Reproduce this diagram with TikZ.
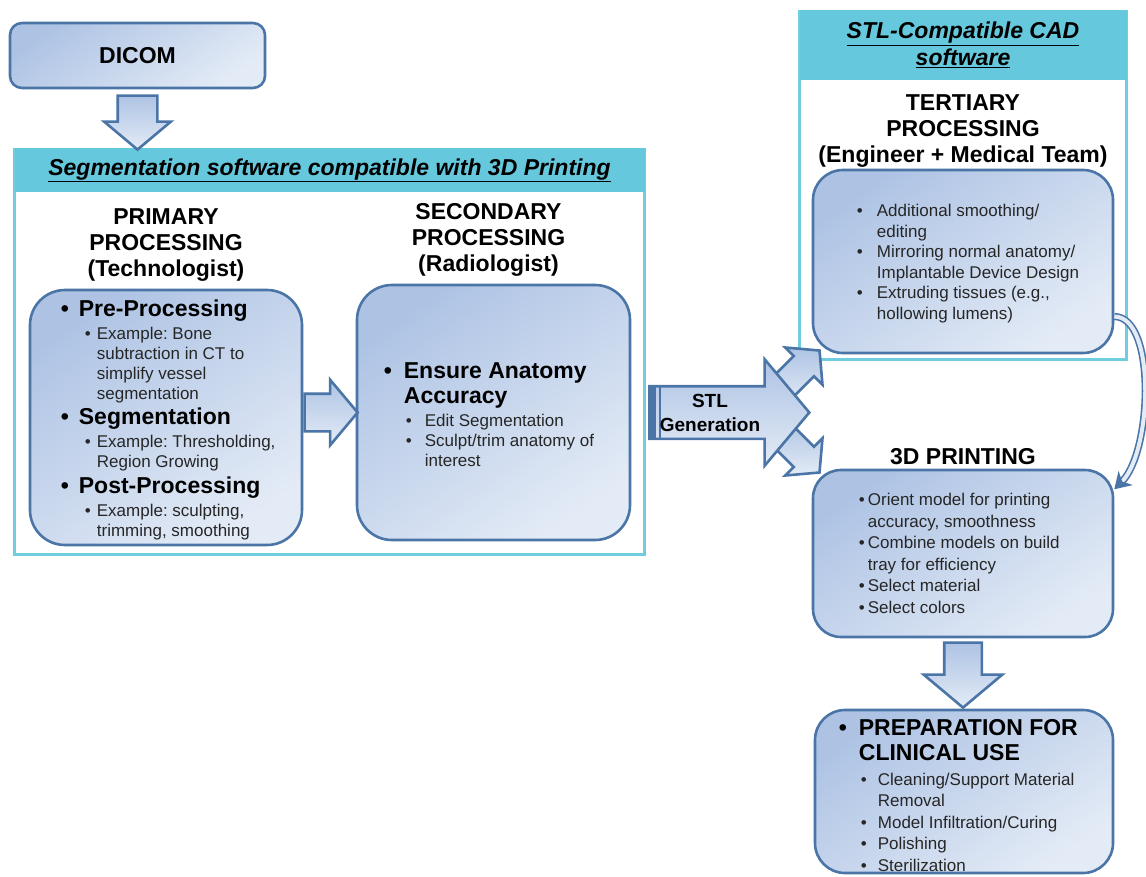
\documentclass[tikz,border=0pt]{standalone}
\usepackage{fontspec}
\setmainfont{Liberation Sans}
\usetikzlibrary{positioning,shapes.arrows,arrows.meta}

\definecolor{boxedge}{HTML}{4A75A6}
\definecolor{boxtop}{HTML}{AEC3E4}
\definecolor{boxbot}{HTML}{E3EBF6}
\definecolor{panelcyan}{HTML}{66C8DC}
\definecolor{paneledge}{HTML}{70CDE0}
\definecolor{subtext}{HTML}{262626}

\newcommand{\subskip}{20pt}
% Hauptpunkt: #1 Abstand Punkt->Text, #2 Text
\newcommand{\hitem}[2]{{\fontsize{23}{25.5}\selectfont\bfseries\frenchspacing\spaceskip=0pt\xspaceskip=0pt\leftskip=#1\noindent\llap{\hbox to #1{\textbullet\hfil}}#2\par}\vskip3pt}
% Unterpunkt: #1 Punkt-x, #2 Text-x, #3 Text
\newcommand{\sitem}[3]{{\fontsize{17}{\subskip}\selectfont\frenchspacing\spaceskip=0pt\xspaceskip=0pt\leftskip=#2\noindent\color{subtext}\llap{\hbox to \dimexpr#2-#1\relax{\textbullet\hfil}}#3\par}}

\tikzset{
  flowbox/.style={draw=boxedge, line width=2.6pt, top color=boxtop, bottom color=boxbot, shading angle=35, rounded corners=#1, inner sep=0pt},
  flowbox/.default=32pt,
  panel/.style={draw=paneledge, line width=3pt, fill=white, inner sep=0pt},
  panelhead/.style={fill=panelcyan, inner sep=0pt, font=\fontsize{23}{27}\selectfont\bfseries\itshape, align=center},
  heading/.style={font=\fontsize{23}{26}\selectfont\bfseries, align=center, inner sep=0pt},
  itemtext/.style={text width=#1, align=left, inner sep=0pt, anchor=west},
  blockarrow/.style={single arrow, draw=boxedge, line width=2.6pt, top color=boxtop, bottom color=boxbot, single arrow tip angle=100, inner xsep=0pt},
  bendarrow/.style={draw=boxedge, line width=1.6pt, double=boxbot, double distance=4pt, -{Stealth[length=16pt,width=20pt,inset=5pt]}}
}

\begin{document}
\begin{tikzpicture}[x=1pt,y=-1pt]
\useasboundingbox (0,0) rectangle (1146,876);

% Panels
\node[panel, minimum width=630pt, minimum height=405pt, anchor=north west] (segpanel) at (13,148) {};
\node[panelhead, minimum width=630pt, minimum height=44pt, anchor=north] (seghead) at (segpanel.north) {\underline{Segmentation software compatible with 3D Printing}};
\node[panel, minimum width=327pt, minimum height=348pt, anchor=north west] (cadpanel) at (798,10) {};
\node[panelhead, minimum width=327pt, minimum height=70pt, anchor=north] (cadhead) at (cadpanel.north) {\underline{STL-Compatible CAD}\\\underline{software}};

% DICOM
\node[flowbox=12pt, minimum width=255pt, minimum height=65pt, font=\fontsize{23}{26}\selectfont\bfseries] (dicom) at (137.5,55.5) {DICOM};
\node[blockarrow, rotate=-90, minimum height=54pt, inner ysep=18.5pt, single arrow head extend=13.5pt, anchor=tail] (dicomdown) at ([yshift=-5pt]dicom.south) {};

% Primary / Secondary
\node[flowbox=35pt, minimum width=272pt, minimum height=255pt] (prim) at (166,417.5) {};
\node[flowbox=35pt, minimum width=273pt, minimum height=255pt] (sec) at (493.5,412.5) {};
\node[heading, above=7pt of prim] (primhead) {PRIMARY\\PROCESSING\\(Technologist)};
\node[heading, above=7pt of sec, xshift=-5pt] (sechead) {SECONDARY\\PROCESSING\\(Radiologist)};

\node[itemtext=235pt] (primtext) at ([xshift=32pt,yshift=-2pt]prim.west) {%
  \hitem{18pt}{Pre-Processing}
  \sitem{24pt}{36pt}{Example: Bone\newline subtraction in CT to\newline simplify vessel\newline segmentation}
  \hitem{18pt}{Segmentation}
  \sitem{24pt}{36pt}{Example: Thresholding,\newline Region Growing}
  \hitem{18pt}{Post-Processing}
  \sitem{24pt}{36pt}{Example: sculpting,\newline trimming, smoothing}};

\node[itemtext=230pt] (sectext) at ([xshift=28pt,yshift=-2pt]sec.west) {%
  \hitem{20pt}{Ensure Anatomy\newline Accuracy}
  \sitem{22pt}{41pt}{Edit Segmentation}
  \sitem{22pt}{41pt}{Sculpt/trim anatomy of\newline interest}};

\node[blockarrow, minimum height=53pt, inner ysep=17.5pt, single arrow head extend=14pt, anchor=tail] (primarrow) at ([yshift=5pt]prim.east) {};

% Tertiary / 3D Printing / Preparation
\node[flowbox=30pt, minimum width=300pt, minimum height=183pt] (tert) at (963,261.5) {};
\node[flowbox=28pt, minimum width=300pt, minimum height=167pt] (print) at (963,553.5) {};
\node[flowbox=30pt, minimum width=298pt, minimum height=163pt] (prep) at (964,791.5) {};
\node[heading, above=1pt of tert] (terthead) {TERTIARY\\PROCESSING\\(Engineer + Medical Team)};
\node[heading, above=4pt of print] (printhead) {3D PRINTING};

\node[itemtext=245pt] (terttext) at ([xshift=45pt,yshift=-2pt]tert.west) {%
  \renewcommand{\subskip}{20.5pt}%
  \sitem{0pt}{20pt}{Additional smoothing/\newline editing}
  \sitem{0pt}{20pt}{Mirroring normal anatomy/\newline Implantable Device Design}
  \sitem{0pt}{20pt}{Extruding tissues (e.g.,\newline hollowing lumens)}};

\node[itemtext=240pt] (printtext) at ([xshift=47pt]print.west) {%
  \renewcommand{\subskip}{21.5pt}%
  \sitem{0pt}{9pt}{Orient model for printing\newline accuracy, smoothness}
  \sitem{0pt}{9pt}{Combine models on build\newline tray for efficiency}
  \sitem{0pt}{9pt}{Select material}
  \sitem{0pt}{9pt}{Select colors}};

\node[itemtext=250pt] (preptext) at ([xshift=25pt,yshift=-4pt]prep.west) {%
  \renewcommand{\subskip}{21.5pt}%
  \hitem{20pt}{PREPARATION FOR\newline CLINICAL USE}
  \sitem{22pt}{39pt}{Cleaning/Support Material\newline Removal}
  \sitem{22pt}{39pt}{Model Infiltration/Curing}
  \sitem{22pt}{39pt}{Polishing}
  \sitem{22pt}{39pt}{Sterilization}};

\node[blockarrow, rotate=-90, minimum height=65pt, inner ysep=17.5pt, single arrow head extend=20.5pt, anchor=tail] (printdown) at ([yshift=-3pt]print.south) {};

% STL-Pfeil mit Verzweigung
\node[blockarrow, rotate=45, minimum height=62pt, inner ysep=13pt, single arrow head extend=12pt, anchor=tip] (upfork) at ([xshift=9pt,yshift=5pt]tert.south west) {};
\node[blockarrow, rotate=-45, minimum height=62pt, inner ysep=13pt, single arrow head extend=12pt, anchor=tip] (downfork) at ([xshift=9pt,yshift=-5pt]print.north west) {};
\node[blockarrow, minimum height=160pt, inner ysep=25pt, single arrow head extend=27pt, anchor=tail, xshift=2pt] (stlarrow) at (segpanel.east |- sec.east) {};
\fill[boxedge] (stlarrow.before tail) rectangle ([xshift=8pt]stlarrow.after tail);
\draw[boxedge, line width=1.5pt] ([xshift=12pt]stlarrow.before tail) -- ([xshift=12pt]stlarrow.after tail);
\node[font=\fontsize{19}{24}\selectfont\bfseries, align=center, inner sep=0pt] (stltext) at ([xshift=62pt]stlarrow.tail) {STL\\Generation};

% Rueckfuehrung
\draw[bendarrow] (tert.-20) .. controls +(42pt,0pt) and +(38pt,38pt) .. (print.23);

\end{tikzpicture}
\end{document}
